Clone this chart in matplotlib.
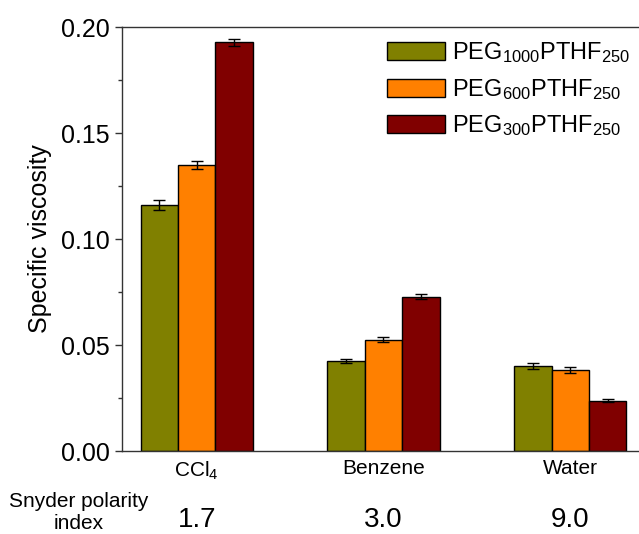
import matplotlib
matplotlib.use("Agg")
import matplotlib.pyplot as plt
import numpy as np

plt.rcParams['font.family'] = ['Liberation Sans', 'DejaVu Sans']
plt.rcParams['mathtext.fontset'] = 'custom'
plt.rcParams['mathtext.rm'] = 'Liberation Sans'
plt.rcParams['mathtext.it'] = 'Liberation Sans'

# Datos
solvents = ['CCl$_4$', 'Benzene', 'Water']
polarity = [1.7, 3.0, 9.0]
series = [r'PEG$_{1000}$PTHF$_{250}$', r'PEG$_{600}$PTHF$_{250}$', r'PEG$_{300}$PTHF$_{250}$']
values = [
    [0.116, 0.0426, 0.0400],
    [0.135, 0.0525, 0.0382],
    [0.1928, 0.0728, 0.0237],
]
errors = [
    [0.0022, 0.0010, 0.0013],
    [0.0019, 0.0012, 0.0012],
    [0.0017, 0.0011, 0.0007],
]
colors = ['#808000', '#FF8000', '#800000']

fig = plt.figure(figsize=(6.39, 5.34), dpi=100)
ax = fig.add_axes([0.1909, 0.1554, 0.8185, 0.794])

x = np.arange(1, len(solvents) + 1)
w = 0.2
for i in range(3):
    ax.bar(x + (i - 1) * w, values[i], w, color=colors[i], edgecolor='black',
           linewidth=1, label=series[i],
           yerr=errors[i], capsize=4, error_kw=dict(elinewidth=1, capthick=1, ecolor='black'))

ax.set_xlim(0.6, 3.4)
ax.set_ylim(0, 0.2)
ax.set_yticks(np.arange(0, 0.201, 0.05))
ax.set_yticks(np.arange(0.025, 0.2, 0.05), minor=True)
ax.yaxis.set_major_formatter(matplotlib.ticker.FormatStrFormatter('%.2f'))
ax.set_xticks(x)
ax.set_xticklabels(solvents, fontsize=15)
ax.tick_params(axis='x', length=0, pad=6)
ax.tick_params(axis='y', which='major', length=5, width=1, labelsize=18, pad=4,
               direction='out', color='#333333')
ax.tick_params(axis='y', which='minor', length=3, width=1, direction='out', color='#333333')
for s in ax.spines.values():
    s.set_color('#333333')
    s.set_linewidth(1)
ax.set_ylabel('Specific viscosity', fontsize=18, labelpad=6)

# Indice de polaridad
trans = ax.get_xaxis_transform()
ax.text(-0.082, -0.146, 'Snyder polarity\nindex', transform=ax.transAxes, fontsize=15,
        ha='center', va='center', linespacing=1.2)
for xi, p in zip(x, polarity):
    ax.text(xi, -0.163, '%.1f' % p, transform=trans, fontsize=20, ha='center', va='center')

ax.legend(loc='upper left', bbox_to_anchor=(0.6056, 0.925), bbox_transform=fig.transFigure,
          frameon=False, fontsize=17, handlelength=2.45, handleheight=0.8,
          labelspacing=0.5, handletextpad=0.3, borderpad=0, borderaxespad=0)

fig.savefig('out.png', dpi=100)
